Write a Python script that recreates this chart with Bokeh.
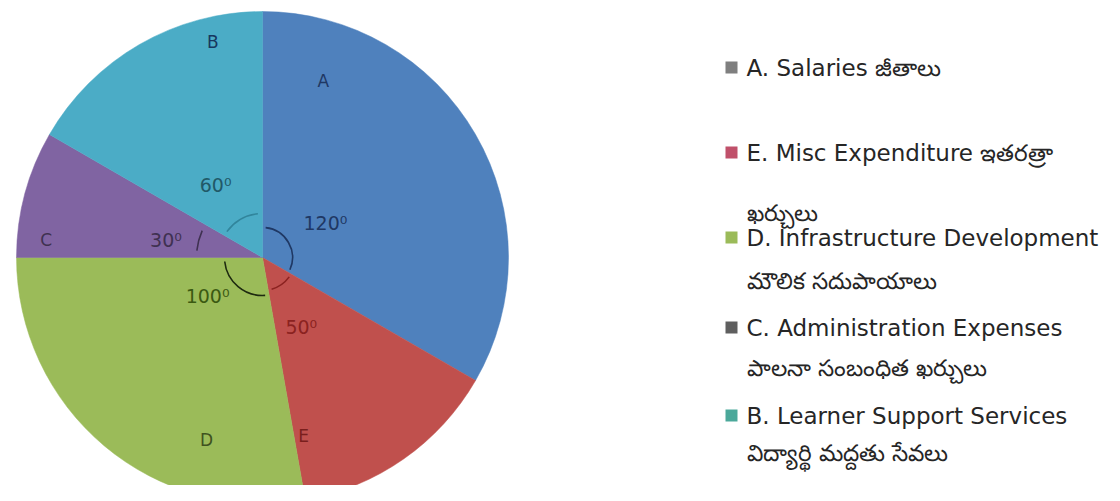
import math
from bokeh.plotting import figure
from bokeh.models import Range1d, ColumnDataSource
from bokeh.core.properties import value
from bokeh.embed import file_html
from bokeh.resources import INLINE

# ---- data ----
slices = ["A", "E", "D", "C", "B"]
degrees = [120, 50, 100, 30, 60]
slice_colors = ["#4f81bd", "#c0504d", "#9bbb59", "#8064a2", "#4bacc6"]
legend_lines = [
    ["A. Salaries జీతాలు"],
    ["E. Misc Expenditure ఇతరత్రా", "ఖర్చులు"],
    ["D. Infrastructure Development", "మౌలిక సదుపాయాలు"],
    ["C. Administration Expenses", "పాలనా సంబంధిత ఖర్చులు"],
    ["B. Learner Support Services", "విద్యార్థి మద్దతు సేవలు"],
]

# ---- styles / placement ----
W, H = 1104, 485
CX, CY, R = 262, H - 257, 246
letter_pos = [(71, 187), (-77, 183), (253, 191), (175.5, 217), (103, 221)]
deg_pos = [(29, 72), (-61, 80), (215, 67), (170, 98), (123, 86)]
text_colors = ["#1f3864", "#7a1f1d", "#3f5220", "#3f3151", "#17375e"]
deg_colors = ["#1f3864", "#8b2220", "#3b5a12", "#3f3151", "#215968"]
arc_r = [30, 33, 38, 66, 44]
arc_colors = ["#1f3864", "#8b2220", "#1e2a10", "#3f3151", "#31859c"]
marker_colors = ["#7f7f7f", "#c0506a", "#9bbb59", "#5f5f5f", "#4ba89a"]
legend_y = [[67], [152, 212], [237, 280], [327, 367], [415, 452]]  # image px

p = figure(width=W, height=H, output_backend="svg", toolbar_location=None,
           x_range=Range1d(0, W), y_range=Range1d(0, H), min_border=0)
p.axis.visible = False
p.grid.visible = False
p.outline_line_color = None
p.background_fill_color = "white"
p.border_fill_color = "white"

# wedges, clockwise from 12 o'clock
starts, ends = [], []
cum = 0
for d in degrees:
    starts.append(math.radians(90 - cum - d))
    ends.append(math.radians(90 - cum))
    cum += d

src = ColumnDataSource(dict(x=[CX] * len(slices), y=[CY] * len(slices),
                            s=starts, e=ends, c=slice_colors))
p.wedge(x="x", y="y", radius=R, start_angle="s", end_angle="e",
        fill_color="c", line_color="c", line_width=0.5, source=src)

# angle arcs
pad = math.radians(6)
for s, e, r, c in zip(starts, ends, arc_r, arc_colors):
    p.arc(x=CX, y=CY, radius=r, start_angle=s + pad, end_angle=e - pad,
          line_color=c, line_width=1.6)

# labels
for name, (ang, rr), col in zip(slices, letter_pos, text_colors):
    a = math.radians(ang)
    p.text(x=[CX + rr * math.cos(a)], y=[CY + rr * math.sin(a)], text=[name],
           text_font=value("DejaVu Sans"), text_font_size="17px",
           text_color=col, text_align="center", text_baseline="middle")

for d, (ang, rr), col in zip(degrees, deg_pos, deg_colors):
    a = math.radians(ang)
    p.text(x=[CX + rr * math.cos(a)], y=[CY + rr * math.sin(a)], text=[f"{d}⁰"],
           text_font=value("DejaVu Sans"), text_font_size="19px",
           text_color=col, text_align="center", text_baseline="middle")

# legend
MX, TX = 731, 746
for lines, ys, mc in zip(legend_lines, legend_y, marker_colors):
    p.rect(x=[MX], y=[H - ys[0]], width=12, height=12, width_units="screen",
           height_units="screen", fill_color=mc, line_color=None)
    for t, yy in zip(lines, ys):
        p.text(x=[TX], y=[H - yy], text=[t], text_font=value("DejaVu Sans"),
               text_font_size="23px", text_color="#262626",
               text_align="left", text_baseline="middle")

open("out.html", "w").write(file_html(p, INLINE))
